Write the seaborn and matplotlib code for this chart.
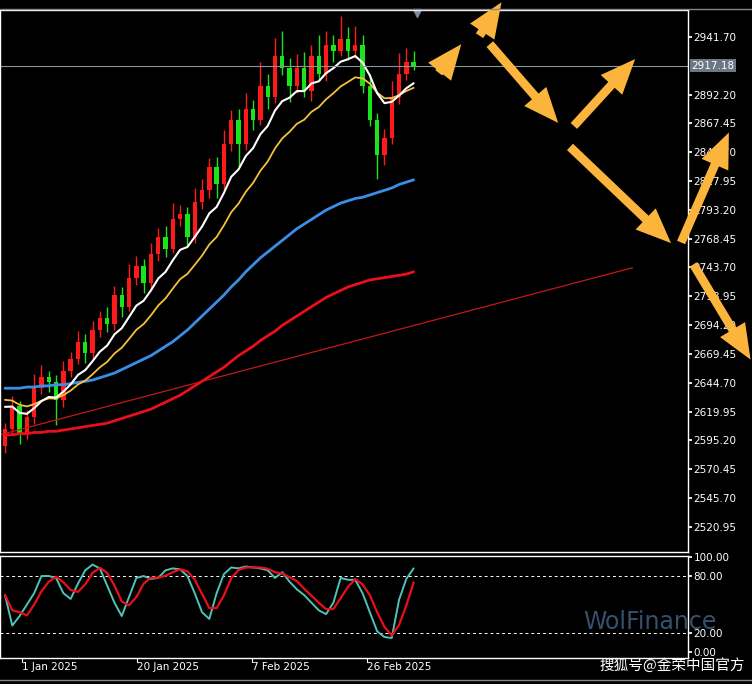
import numpy as np
import pandas as pd
import matplotlib
matplotlib.use("Agg")
import matplotlib.pyplot as plt
import seaborn as sns

closes = [2605,2625,2600,2615,2640,2650,2645,2630,2655,2665,2680,2670,2690,2700,2695,2720,2710,2735,2745,2730,
          2755,2770,2760,2785,2790,2770,2800,2810,2830,2815,2850,2870,2850,2880,2870,2900,2890,2925,2915,2900,
          2915,2895,2925,2910,2935,2930,2940,2930,2935,2900,2870,2840,2855,2890,2910,2920,2917]
first_open = 2590
up_wick = [5,8,4,6,12,10,5,6,8,6,9,7,8,6,10,8,7,12,9,6,10,8,9,14,7,6,12,10,8,9,12,9,10,14,8,20,10,16,22,9,
           12,14,10,18,12,8,20,10,16,8,10,6,8,14,18,12,10]
dn_wick = [6,5,8,4,6,5,8,22,6,5,4,8,5,6,7,5,9,4,6,8,5,6,7,4,6,8,5,6,7,12,5,6,20,5,8,4,10,5,6,14,
           6,5,8,5,6,10,5,8,6,6,5,20,8,5,6,5,4]
ma_blue = [2640,2640,2640,2641,2641,2642,2642,2643,2643,2644,2645,2646,2647,2649,2651,2653,2656,2659,2662,2665,
           2668,2672,2676,2680,2685,2690,2696,2702,2708,2714,2720,2727,2733,2740,2746,2752,2757,2762,2767,2772,
           2777,2781,2785,2789,2793,2796,2799,2801,2803,2804,2806,2808,2810,2812,2815,2817,2819]
ma_red = [2600,2600,2601,2601,2602,2602,2603,2603,2604,2605,2606,2607,2608,2609,2610,2612,2614,2616,2618,2620,
          2622,2625,2628,2631,2634,2638,2642,2646,2650,2654,2658,2663,2668,2672,2676,2681,2685,2689,2694,2698,
          2702,2706,2710,2714,2718,2721,2724,2727,2729,2731,2733,2734,2735,2736,2737,2738,2740]
stoch = [60,28,38,50,62,80,80,78,62,56,72,86,92,88,70,52,38,58,78,80,77,78,86,88,87,80,62,42,35,62,
         82,89,88,90,89,88,86,78,84,74,66,60,52,44,40,52,78,76,76,62,42,22,16,15,55,77,88]
price_ticks = [2941.70,2892.20,2867.45,2842.70,2817.95,2793.20,2768.45,2743.70,2718.95,2694.20,2669.45,
               2644.70,2619.95,2595.20,2570.45,2545.70,2520.95]
date_labels = ["1 Jan 2025", "20 Jan 2025", "7 Feb 2025", "26 Feb 2025"]
date_pos = [2.3, 18.1, 33.8, 49.6]
last_price = 2917.18

n = len(closes)
idx = np.arange(n)
opens = [first_open] + closes[:-1]
df = pd.DataFrame({"i": idx, "o": opens, "c": closes})
df["h"] = np.maximum(df.o, df.c) + np.array(up_wick)
df["l"] = np.minimum(df.o, df.c) - np.array(dn_wick)
df["white"] = pd.Series([2624] + closes[1:]).ewm(span=8, adjust=False).mean()
df["yellow"] = pd.Series([2630] + closes[1:]).ewm(span=15, adjust=False).mean()
df["blue"] = ma_blue
df["red"] = ma_red
df["k"] = stoch
df["d"] = df.k.rolling(3, min_periods=1).mean()

sns.set_theme(style="dark")
plt.rcParams["font.family"] = ["DejaVu Sans"]
fig = plt.figure(figsize=(7.52, 6.84), dpi=100, facecolor="black")
W, H = 752, 684
ax = fig.add_axes([0, (H-552)/H, 688/W, 542/H])
ax2 = fig.add_axes([0, (H-658)/H, 688/W, 102/H])
xl = (-0.685, 93.6)
for a in (ax, ax2):
    a.set_facecolor("black")
    a.set_xlim(*xl)
    for s in a.spines.values():
        s.set_color("white"); s.set_linewidth(1)
    a.grid(False)
    a.yaxis.tick_right()
    a.tick_params(axis="y", colors="white", labelsize=7.5, length=3, pad=1, direction="out")
    a.set_xticks([])

ax.set_ylim(2499.3, 2964.9)
for _, r in df.iterrows():
    col = "#FF1A1A" if r.c >= r.o else "#1AE41A"
    ax.vlines(r.i, r.l, r.h, color=col, lw=1)
    ax.bar(r.i, abs(r.c - r.o) or 0.8, bottom=min(r.o, r.c), width=0.6, color=col, lw=0)
ax.plot([-0.685, 86.0], [2600, 2743.5], color="#C21818", lw=0.9)
sns.lineplot(x=df.i, y=df.red, ax=ax, color="#E8101A", lw=2)
sns.lineplot(x=df.i, y=df.blue, ax=ax, color="#3A8EE8", lw=2)
sns.lineplot(x=df.i, y=df.yellow, ax=ax, color="#F5C03C", lw=1.3)
sns.lineplot(x=df.i, y=df.white, ax=ax, color="white", lw=1.5)
ax.axhline(last_price, color="#8A94A0", lw=0.8)
ax.set_yticks(price_ticks)
ax.set_yticklabels([f"{t:.2f}" for t in price_ticks])
ax.set_xlabel(""); ax.set_ylabel("")
ax.text(1.005, last_price, f"{last_price:.2f}", transform=ax.get_yaxis_transform(), color="white",
        fontsize=7.5, va="center", ha="left", bbox=dict(facecolor="#6B7785", edgecolor="none", pad=1))
ax.plot([56.5], [2962], marker="v", color="#7A8A99", ms=6, clip_on=False)

ax2.set_ylim(-6, 101)
ax2.axhline(80, color="white", lw=0.7, ls=(0, (3, 3)))
ax2.axhline(20, color="white", lw=0.7, ls=(0, (3, 3)))
sns.lineplot(x=df.i, y=df.k, ax=ax2, color="#4FC3B8", lw=1.4)
sns.lineplot(x=df.i, y=df.d, ax=ax2, color="#E8101A", lw=1.6)
ax2.set_yticks([100, 80, 20, 0])
ax2.set_yticklabels(["100.00", "80.00", "20.00", "0.00"])
ax2.set_xlabel(""); ax2.set_ylabel("")
for p, lab in zip(date_pos, date_labels):
    ax2.plot([p, p], [-6, -10], color="white", lw=0.8, clip_on=False)
    ax2.text(p, -10, lab, color="white", fontsize=7.5, ha="left", va="top")

fig.text(583/W, 1-622/H, "WolFinance", color="#3E5F82", fontsize=17, va="center", ha="left", alpha=0.85)
fig.text(745/W, 1-665/H, "搜狐号@金荣中国官方", color="white", fontsize=10.5, ha="right", va="center",
         family=["Noto Sans CJK SC", "DejaVu Sans"])
fig.add_artist(plt.Line2D([0, 1], [1-9/H, 1-9/H], color="#888888", lw=1))
fig.add_artist(plt.Line2D([0, 1], [1-680/H, 1-680/H], color="#888888", lw=1))

arrows = [((437, 75), (463, 42)), ((478, 38), (503, 0)), ((488, 42), (560, 125)),
          ((572, 128), (637, 57)), ((568, 145), (673, 245)), ((680, 245), (730, 130)),
          ((692, 262), (752, 362))]
for (x0, y0), (x1, y1) in arrows:
    fig.add_artist(matplotlib.patches.FancyArrowPatch((x0/W, 1-y0/H), (x1/W, 1-y1/H),
                   transform=fig.transFigure, arrowstyle="simple,head_length=1.8,head_width=1.5,tail_width=0.45",
                   mutation_scale=14, color="#FBB53C", lw=0))
fig.savefig("out.png", dpi=100, facecolor="black")
